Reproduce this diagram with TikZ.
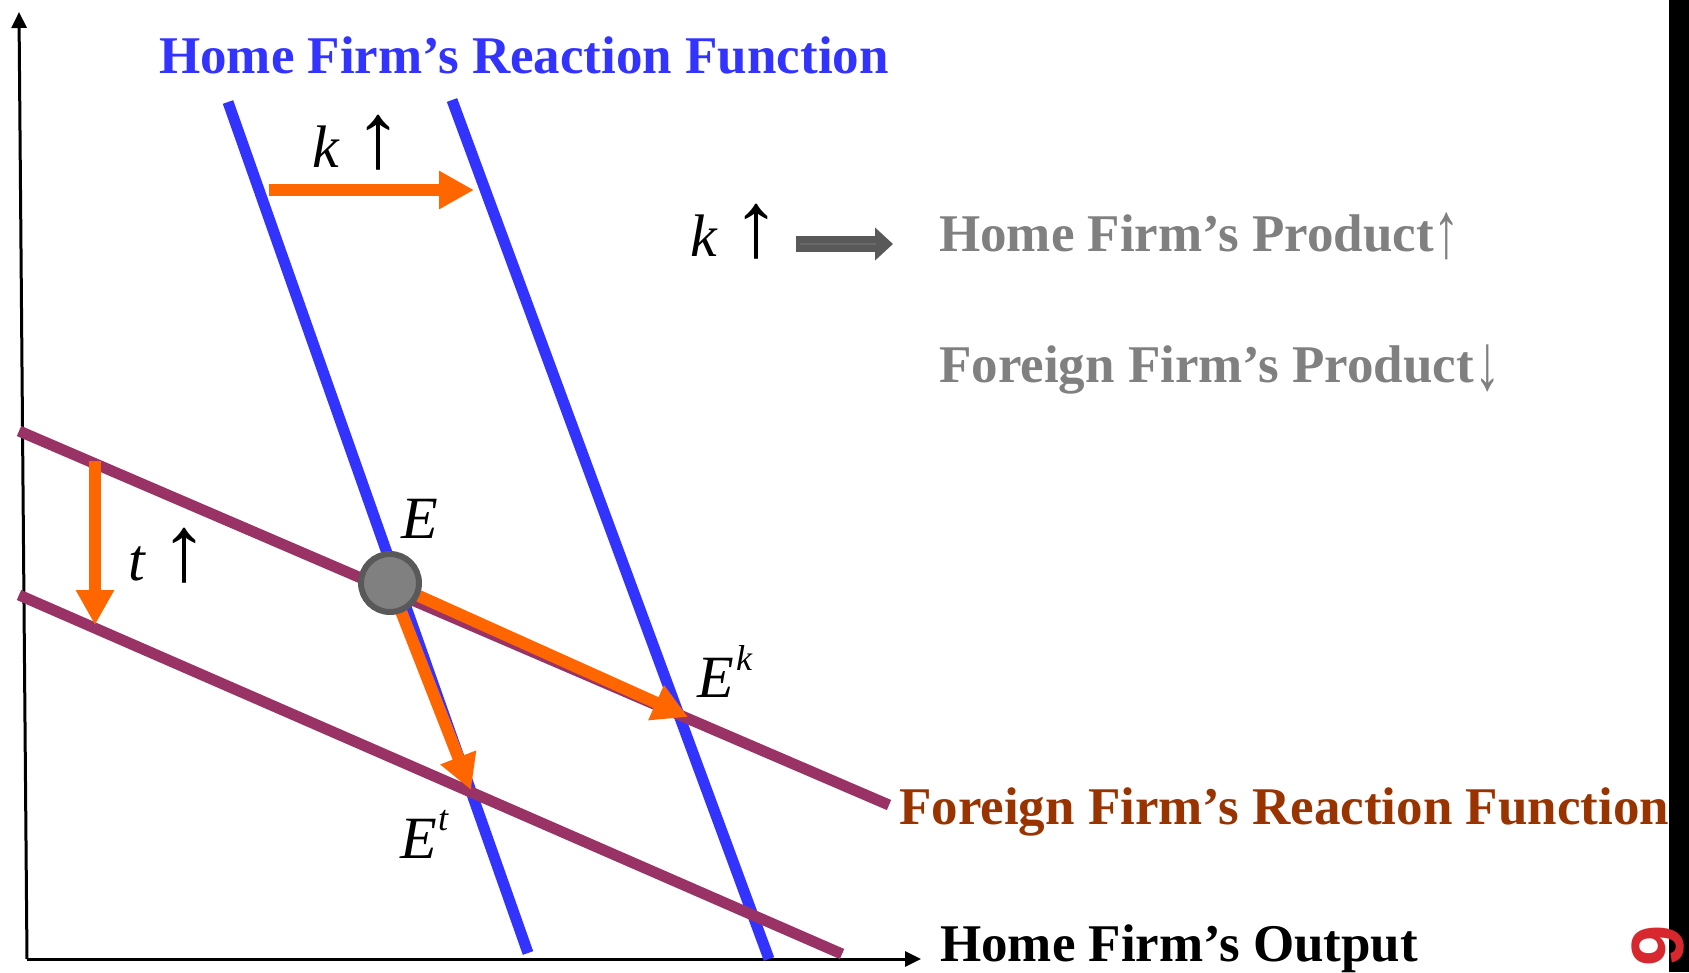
\documentclass[tikz,border=0pt]{standalone}
\usepackage{fontspec}
\usepackage{graphicx}
\setmainfont{Liberation Serif}
\newfontfamily\sansf{Liberation Sans}
\usetikzlibrary{arrows.meta}
\definecolor{hblue}{HTML}{3333FF}
\definecolor{fpurple}{HTML}{993366}
\definecolor{orng}{HTML}{FF6600}
\definecolor{ftext}{HTML}{993300}
\definecolor{gtext}{HTML}{808080}
\definecolor{dgray}{HTML}{595959}
\definecolor{ecirc}{HTML}{808080}
\definecolor{pnred}{HTML}{D6282E}
\newcommand{\tallup}{\hspace{16pt}\scalebox{1.6}[1.55]{\upshape ↑}}
\newcommand{\txtup}{\raisebox{-6pt}{\scalebox{1}[1.5]{↑}}}
\newcommand{\txtdown}{\raisebox{-7pt}{\scalebox{1}[1.5]{↓}}}
\begin{document}
\begin{tikzpicture}[x=1pt,y=-1pt,
  axis/.style={line width=3pt, -{Triangle[length=16pt,width=15pt]}},
  rblue/.style={hblue, line width=11pt},
  rpurple/.style={fpurple, line width=11pt},
  shiftarrow/.style={orng, line width=12pt, -{Triangle[length=35pt,width=36pt]}},
  btitle/.style={font=\fontsize{53}{60}\selectfont\bfseries, inner sep=0pt, anchor=base west},
  mlabel/.style={font=\fontsize{60}{66}\selectfont\itshape, inner sep=0pt, anchor=base west},
  suplabel/.style={font=\fontsize{36}{40}\selectfont\itshape, inner sep=0pt, anchor=base west},
]
\useasboundingbox (0,0) rectangle (1689,972);
\clip (0,0) rectangle (1689,972);
% axes
\coordinate (yb) at (27,959);
\coordinate (yt) at (19,12);
\coordinate (xt) at (921,959);
\draw[axis] (yb) -- (yt);
\draw[axis] (yb) -- (xt);
% reaction functions
\coordinate (h1a) at (228,102); \coordinate (h1b) at (528,953);
\coordinate (h2a) at (452,100); \coordinate (h2b) at (769,959);
\coordinate (f1a) at (19,431);  \coordinate (f1b) at (889,805);
\coordinate (f2a) at (19,595);  \coordinate (f2b) at (842,954);
\draw[rblue] (h1a) -- (h1b);
\draw[rblue] (h2a) -- (h2b);
\draw[rpurple] (f1a) -- (f1b);
\draw[rpurple] (f2a) -- (f2b);
% shift arrows
\coordinate (ka) at (269,190); \coordinate (kb) at (474,190);
\coordinate (ta) at (95,461);  \coordinate (tb) at (95,625);
\coordinate (Ek) at (688,717); \coordinate (Et) at (471,790);
\draw[shiftarrow] (ka) -- (kb);
\draw[shiftarrow] (ta) -- (tb);
\node[circle, minimum size=10pt, inner sep=0pt] (E0) at (390,583) {};
\draw[shiftarrow] (E0.center) -- (Ek);
\draw[shiftarrow] (E0.center) -- (Et);
\node[circle, fill=ecirc, draw=dgray, line width=6pt, minimum size=58pt, inner sep=0pt] (E) at (390,583) {};
% labels
\node[mlabel] (kl) at (312,167) {k\tallup};
\node[mlabel] (tl) at (128,580) {t\tallup};
\node[mlabel] (El) at (401,538) {E};
\node[mlabel] (Ekl) at (697,697) {E};
\node[suplabel] (Eks) at (736,670) {k};
\node[mlabel] (Etl) at (400,858) {E};
\node[suplabel] (Ets) at (438,830) {t};
% implication
\node[mlabel] (kimp) at (690,256) {k\tallup};
\coordinate (ga) at (796,244); \coordinate (gb) at (893,244);
\draw[dgray, line width=16pt, -{Triangle[length=18pt,width=32pt]}] (ga) -- (gb);
\coordinate (gla) at (800,244); \coordinate (glb) at (876,244);
\draw[gray!45!dgray, line width=1.5pt] (gla) -- (glb);
% titles
\node[btitle, text=hblue] (htitle) at (159,73) {Home Firm’s Reaction Function};
\node[btitle, text=gtext] (hp) at (939,251) {Home Firm’s Product\txtup};
\node[btitle, text=gtext] (fp) at (939,382) {Foreign Firm’s Product\txtdown};
\node[btitle, text=ftext] (ftitle) at (899,824) {Foreign Firm’s Reaction Function};
\node[btitle, text=black] (xlab) at (940,961) {Home Firm’s Output};
% right band and page number
\fill[black] (1669,0) rectangle (1689,972);
\node[font=\sansf\bfseries\fontsize{74}{74}\selectfont, text=pnred, rotate=90, inner sep=0pt] (pg) at (1658,946) {9};
\end{tikzpicture}
\end{document}
